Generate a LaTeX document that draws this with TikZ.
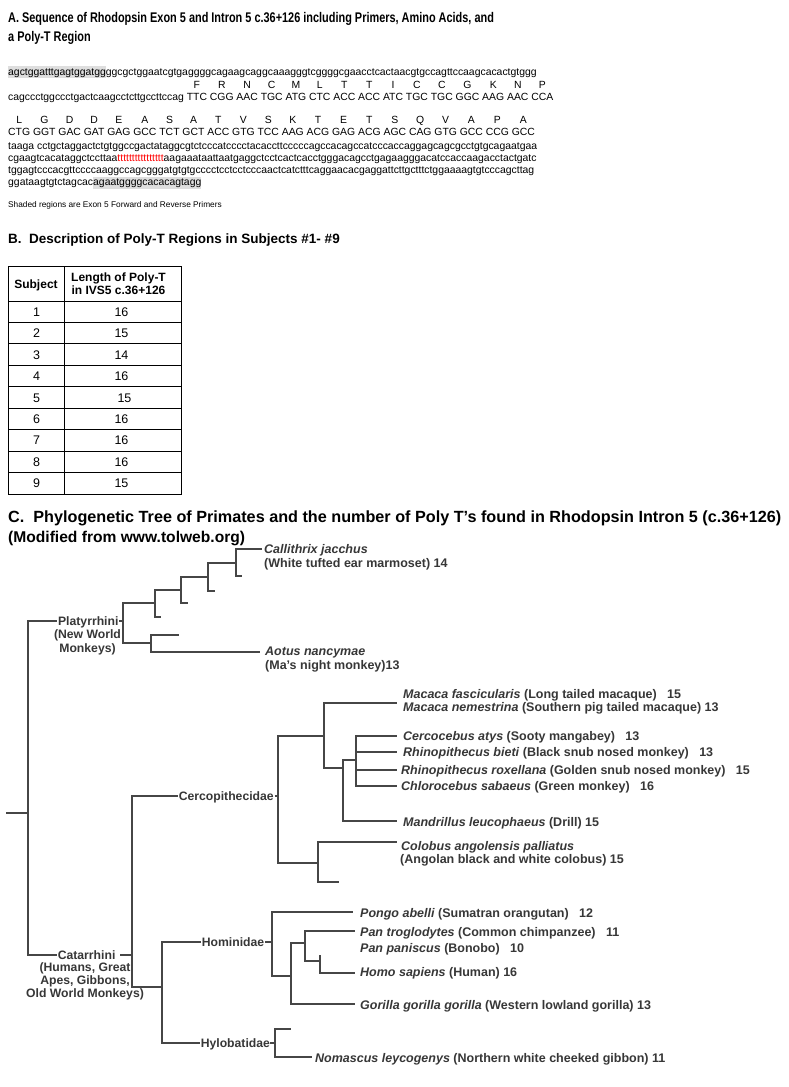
\documentclass[tikz,border=0pt]{standalone}
\usepackage{fontspec}
\setmainfont{Liberation Sans}
\newfontfamily\narrowfont[FakeStretch=0.78]{Liberation Sans}
\definecolor{treeline}{RGB}{70,70,70}
\definecolor{treetext}{RGB}{55,55,55}
\definecolor{shade}{RGB}{222,222,222}
\definecolor{polyt}{RGB}{255,0,0}
\newcommand\seqfont{\fontsize{10.4}{12}\selectfont}
\newcommand\treefont{\fontsize{12.2}{14}\selectfont\bfseries}
\newcommand\spfont{\fontsize{12.5}{14}\selectfont\bfseries}
\newcommand\shd[1]{{\setlength{\fboxsep}{0pt}\colorbox{shade}{\rule[-3pt]{0pt}{12pt}#1}}}
\newcommand\cdn[2]{\setbox0=\hbox{#2}\rlap{\hbox to \wd0{\hss\raisebox{12pt}{#1}\hss}}\box0\relax}
\begin{document}
\begin{tikzpicture}[x=1pt,y=-1pt,
  br/.style={draw=treeline, line width=1.3pt},
  lab/.style={anchor=west, inner sep=0pt, text height=8.8pt, text depth=0pt, font=\spfont, text=treetext},
  gl/.style={lab, inner xsep=0.6pt, font=\treefont, text height=8.6pt},
  sub/.style={anchor=base, inner sep=0pt, font=\treefont, text=treetext},
  subw/.style={anchor=base west, inner sep=0pt, font=\spfont, text=treetext},
  seq/.style={anchor=base west, inner sep=0pt, font=\seqfont},
  head/.style={anchor=base west, inner sep=0pt},
  tbl/.style={draw=black, line width=0.9pt},
  cell/.style={inner sep=0pt, text height=9pt, text depth=0pt, font=\fontsize{12.5}{14}\selectfont},
  hcell/.style={inner sep=0pt, anchor=base, font=\fontsize{12}{14}\selectfont\bfseries}]
\useasboundingbox (0,0) rectangle (789,1087);
\fill[white] (0,0) rectangle (789,1087);

% ---------- Part A ----------
\node[head] (hA1) at (8,22) {\narrowfont\bfseries\fontsize{14}{16}\selectfont A. Sequence of Rhodopsin Exon 5 and Intron 5 c.36+126 including Primers, Amino Acids, and};
\node[head] (hA2) at (8,41) {\narrowfont\bfseries\fontsize{14}{16}\selectfont a Poly-T Region};

\node[seq] (s1) at (8,75) {\shd{agctggatttgagtggatgg}ggcgctggaatcgtgaggggcagaagcaggcaaagggtcggggcgaacctcactaacgtgccagttccaagcacactgtggg};
\node[seq] (s3) at (8,100.5) {cagccctggccctgactcaagcctcttgccttccag \cdn{F}{TTC} \cdn{R}{CGG} \cdn{N}{AAC} \cdn{C}{TGC} \cdn{M}{ATG} \cdn{L}{CTC} \cdn{T}{ACC} \cdn{T}{ACC} \cdn{I}{ATC} \cdn{C}{TGC} \cdn{C}{TGC} \cdn{G}{GGC} \cdn{K}{AAG} \cdn{N}{AAC} \cdn{P}{CCA}};
\node[seq] (s5) at (8,135.5) {\cdn{L}{CTG} \cdn{G}{GGT} \cdn{D}{GAC} \cdn{D}{GAT} \cdn{E}{GAG} \cdn{A}{GCC} \cdn{S}{TCT} \cdn{A}{GCT} \cdn{T}{ACC} \cdn{V}{GTG} \cdn{S}{TCC} \cdn{K}{AAG} \cdn{T}{ACG} \cdn{E}{GAG} \cdn{T}{ACG} \cdn{S}{AGC} \cdn{Q}{CAG} \cdn{V}{GTG} \cdn{A}{GCC} \cdn{P}{CCG} \cdn{A}{GCC}};
\node[seq] (s6) at (8,149) {taaga cctgctaggactctgtggccgactataggcgtctcccatcccctacaccttcccccagccacagccatcccaccaggagcagcgcctgtgcagaatgaa};
\node[seq] (s7) at (8,161.2) {cgaagtcacataggctccttaa\textcolor{polyt}{tttttttttttttttt}aagaaataattaatgaggctcctcactcacctgggacagcctgagaagggacatccaccaagacctactgatc};
\node[seq] (s8) at (8,173.4) {tggagtcccacgttccccaaggccagcgggatgtgtgcccctcctcctcccaactcatctttcaggaacacgaggattcttgctttctggaaaagtgtcccagcttag};
\node[seq] (s9) at (8,185.6) {ggataagtgtctagcac\shd{agaatggggcacacagtagg}};
\node[head] (foot) at (8,207.5) {\fontsize{8.3}{10}\selectfont Shaded regions are Exon 5 Forward and Reverse Primers};

% ---------- Part B ----------
\node[head] (hB) at (8,243) {\bfseries\fontsize{13.5}{16}\selectfont B.\ \ Description of Poly-T Regions in Subjects \#1- \#9};
\draw[tbl] (8,266) rectangle (181,494);
\draw[tbl] (64,266) -- (64,494);
\foreach \k in {0,...,8} {\draw[tbl] (8,{301+\k*21.444}) -- (181,{301+\k*21.444});}
\node[hcell] (th1) at (36,288.5) {Subject};
\node[hcell] (th2) at (118.5,281) {Length of Poly-T};
\node[hcell] (th3) at (118.5,294) {in IVS5 c.36+126};
\foreach \i/\v/\xx in {1/16/121.5,2/15/121.5,3/14/121.5,4/16/121.5,5/15/124.5,6/16/121.5,7/16/121.5,8/16/121.5,9/15/121.5} {
  \node[cell] (sub\i) at (36.5,{301+(\i-0.5)*21.444}) {\i};
  \node[cell] (len\i) at (\xx,{301+(\i-0.5)*21.444}) {\v};
}

% ---------- Part C ----------
\node[head] (hC1) at (8,522) {\bfseries\fontsize{16.2}{18}\selectfont C.\ \ Phylogenetic Tree of Primates and the number of Poly T’s found in Rhodopsin Intron 5 (c.36+126)};
\node[head] (hC2) at (8,542) {\bfseries\fontsize{15.6}{18}\selectfont (Modified from www.tolweb.org)};

% root
\coordinate (r0) at (6,813);
\coordinate (r) at (28,813);
\draw[br] (r0) -- (r);

% Platyrrhini
\node[gl] (plL) at (57.3,621) {Platyrrhini};
\node[sub] (plS1) at (87.5,638.3) {(New World};
\node[sub] (plS2) at (87.5,652.3) {Monkeys)};
\coordinate (pl) at (123,621);
\draw[br] (r) |- (plL.west);
\draw[br] (plL.east) -- (pl);
\coordinate (p1) at (155,603);
\coordinate (p1s) at (161,617);
\coordinate (p2) at (181,590);
\coordinate (p2s) at (188,603);
\coordinate (p3) at (208,577);
\coordinate (p3s) at (215,591);
\coordinate (p4) at (236,563);
\coordinate (p4s) at (242,576);
\coordinate (cal) at (262,549);
\draw[br] (pl) |- (p1);
\draw[br] (p1) |- (p1s);
\draw[br] (p1) |- (p2);
\draw[br] (p2) |- (p2s);
\draw[br] (p2) |- (p3);
\draw[br] (p3) |- (p3s);
\draw[br] (p3) |- (p4);
\draw[br] (p4) |- (p4s);
\draw[br] (p4) |- (cal);
\coordinate (p5) at (151,643);
\coordinate (p5a) at (179,635);
\coordinate (aot) at (260,652);
\draw[br] (pl) |- (p5);
\draw[br] (p5) |- (p5a);
\draw[br] (p5) |- (aot);
\node[lab] (calL) at (264,549) {\textit{Callithrix jacchus}};
\node[subw] (calS) at (264,567.3) {(White tufted ear marmoset) 14};
\node[lab] (aotL) at (265,651) {\textit{Aotus nancymae}};
\node[subw] (aotS) at (265,669.3) {(Ma’s night monkey)13};

% Catarrhini
\node[gl] (catL) at (57,955) {Catarrhini};
\node[sub] (catS1) at (85,971.3) {(Humans, Great};
\node[sub] (catS2) at (85,984.8) {Apes, Gibbons,};
\node[sub] (catS3) at (85,997.3) {Old World Monkeys)};
\draw[br] (r) |- (catL.west);
\coordinate (ctt) at (120,955);
\coordinate (ct) at (132,955);
\draw[br] (ctt) -- (ct);

% Cercopithecidae
\node[gl] (cerL) at (178,796) {Cercopithecidae};
\coordinate (ce) at (278,796);
\draw[br] (ct) |- (cerL.west);
\draw[br] (cerL.east) -- (ce);
\coordinate (c1) at (324,736);
\coordinate (mac) at (397,703);
\coordinate (c2) at (343,768);
\coordinate (c3) at (356,760);
\coordinate (t1) at (397,736);
\coordinate (t2) at (397,752);
\coordinate (t3) at (397,770);
\coordinate (t4) at (397,786);
\coordinate (mand) at (397,821);
\coordinate (c4) at (318,863);
\coordinate (col) at (397,842);
\coordinate (c4s) at (339,882);
\draw[br] (ce) |- (c1);
\draw[br] (c1) |- (mac);
\draw[br] (c1) |- (c2);
\draw[br] (c2) |- (c3);
\draw[br] (c3) |- (t1);
\draw[br] (c3) |- (t2);
\draw[br] (c3) |- (t3);
\draw[br] (c3) |- (t4);
\draw[br] (c2) |- (mand);
\draw[br] (ce) |- (c4);
\draw[br] (c4) |- (col);
\draw[br] (c4) |- (c4s);
\node[lab] (macf) at (403,694) {\textit{Macaca fascicularis} (Long tailed macaque)\ \ \ 15};
\node[lab] (macn) at (403,707) {\textit{Macaca nemestrina} (Southern pig tailed macaque) 13};
\node[lab] (cerc) at (403,736) {\textit{Cercocebus atys} (Sooty mangabey)\ \ \ 13};
\node[lab] (rhib) at (403,752) {\textit{Rhinopithecus bieti} (Black snub nosed monkey)\ \ \ 13};
\node[lab] (rhir) at (401,770) {\textit{Rhinopithecus roxellana} (Golden snub nosed monkey)\ \ \ 15};
\node[lab] (chlo) at (401,786) {\textit{Chlorocebus sabaeus} (Green monkey)\ \ \ 16};
\node[lab] (mandL) at (403,822) {\textit{Mandrillus leucophaeus} (Drill) 15};
\node[lab] (colL) at (401,846) {\textit{Colobus angolensis palliatus}};
\node[subw] (colS) at (400,863.5) {(Angolan black and white colobus) 15};

% Hominoidea
\coordinate (hoa) at (162,987);
\draw[br] (ct) |- (hoa);
\node[gl] (homL) at (201,942) {Hominidae};
\draw[br] (hoa) |- (homL.west);
\coordinate (hmt) at (265,942);
\coordinate (hm) at (272,942);
\draw[br] (hmt) -- (hm);
\coordinate (pon) at (353,912);
\coordinate (h2) at (291,976);
\coordinate (h3) at (305,943);
\coordinate (ptr) at (355,931);
\coordinate (h4) at (320,961);
\coordinate (h4s) at (320,955);
\coordinate (hom) at (355,973);
\coordinate (gor) at (355,1004);
\draw[br] (hm) |- (pon);
\draw[br] (hm) |- (h2);
\draw[br] (h2) |- (h3);
\draw[br] (h3) |- (ptr);
\draw[br] (h3) |- (h4);
\draw[br] (h4) -- (h4s);
\draw[br] (h4) |- (hom);
\draw[br] (h2) |- (gor);
\node[lab] (ponL) at (360,913) {\textit{Pongo abelli} (Sumatran orangutan)\ \ \ 12};
\node[lab] (ptrL) at (360,932) {\textit{Pan troglodytes} (Common chimpanzee)\ \ \ 11};
\node[lab] (ppaL) at (360,948) {\textit{Pan paniscus} (Bonobo)\ \ \ 10};
\node[lab] (homsL) at (360,972) {\textit{Homo sapiens} (Human) 16};
\node[lab] (gorL) at (360,1005) {\textit{Gorilla gorilla gorilla} (Western lowland gorilla) 13};

% Hylobatidae
\node[gl] (hylL) at (200,1043) {Hylobatidae};
\draw[br] (hoa) |- (hylL.west);
\coordinate (hyt) at (270,1043);
\coordinate (hy) at (275,1043);
\draw[br] (hyt) -- (hy);
\coordinate (hys) at (291,1029);
\coordinate (nom) at (312,1057);
\draw[br] (hy) |- (hys);
\draw[br] (hy) |- (nom);
\node[lab] (nomL) at (315,1058) {\textit{Nomascus leycogenys} (Northern white cheeked gibbon) 11};
\end{tikzpicture}
\end{document}
